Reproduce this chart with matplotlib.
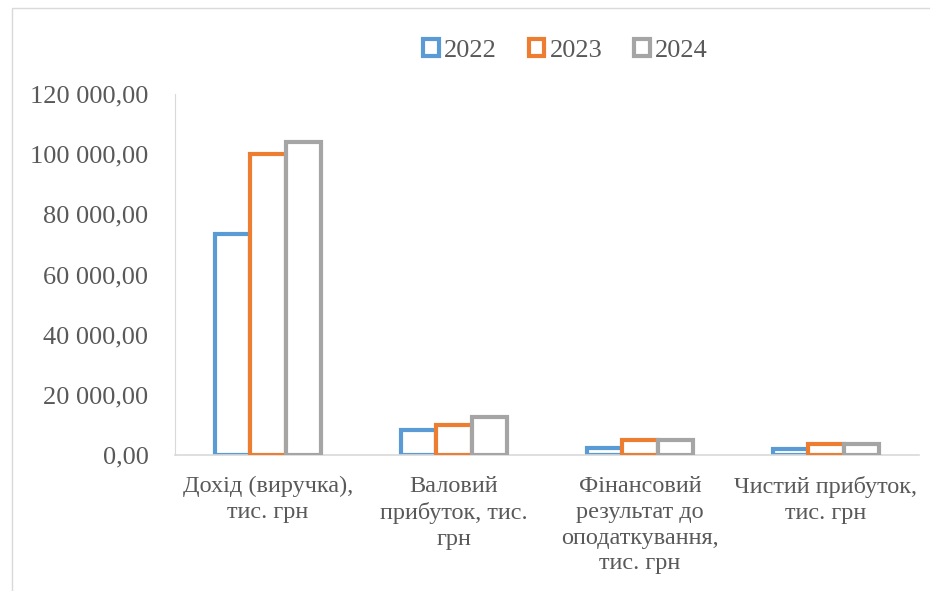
import matplotlib.pyplot as plt
import numpy as np
from matplotlib.patches import Patch, Rectangle
from matplotlib.ticker import FuncFormatter

# ── Data ─────────────────────────────────────────────────────────────────────
categories = [
    "Дохід (виручка),\nтис. грн",
    "Валовий\nприбуток, тис.\nгрн",
    "Фінансовий\nрезультат до\nоподаткування,\nтис. грн",
    "Чистий прибуток,\nтис. грн",
]
years = ["2022", "2023", "2024"]
values_2022 = [73600, 8300, 2300, 1900]
values_2023 = [99900, 10100, 5000, 3800]
values_2024 = [103900, 12500, 5000, 3800]
y_ticks = [0, 20000, 40000, 60000, 80000, 100000, 120000]

colors = ["#5B9BD5", "#ED7D31", "#A5A5A5"]
text_color = "#595959"
grid_color = "#D9D9D9"

plt.rcParams['font.family'] = ['Liberation Serif', 'DejaVu Serif']


def ua_fmt(v, pos=None):
    s = f"{v:,.2f}"
    return s.replace(",", " ").replace(".", ",")


fig = plt.figure(figsize=(9.3, 5.91), dpi=100)
ax = fig.add_axes([0.188, 0.230, 0.800, 0.611])

x = np.arange(len(categories))
width = 0.19
series = [values_2022, values_2023, values_2024]
for i, vals in enumerate(series):
    ax.bar(x + (i - 1) * width, vals, width, facecolor="white",
           edgecolor=colors[i], linewidth=3, zorder=2 + i)

ax.set_xlim(-0.5, len(categories) - 0.5)
ax.set_ylim(0, 120000)
ax.set_yticks(y_ticks)
ax.yaxis.set_major_formatter(FuncFormatter(ua_fmt))
ax.set_xticks(x)
ax.set_xticklabels(categories, fontsize=17.5, color=text_color, linespacing=1.3)
ax.tick_params(axis="y", length=0, pad=19, labelsize=19, labelcolor=text_color)
ax.tick_params(axis="x", length=0, pad=15)

for side in ["top", "right"]:
    ax.spines[side].set_visible(False)
ax.spines["left"].set_color(grid_color)
ax.spines["bottom"].set_color(grid_color)
ax.spines["bottom"].set_linewidth(1.2)

handles = [Patch(facecolor="white", edgecolor=c, linewidth=3) for c in colors]
fig.legend(handles, years, loc="center", bbox_to_anchor=(0.608, 0.915), ncol=3,
           frameon=False, fontsize=19, labelcolor=text_color,
           handlelength=0.6, handleheight=0.6, handletextpad=0.2,
           columnspacing=1.2)

# outer chart frame
fig.patches.append(Rectangle((12 / 930, -0.1), 1.2, 1.1 - 8 / 591,
                             transform=fig.transFigure, fill=False,
                             edgecolor=grid_color, linewidth=1))

fig.savefig("out.png", dpi=100)
